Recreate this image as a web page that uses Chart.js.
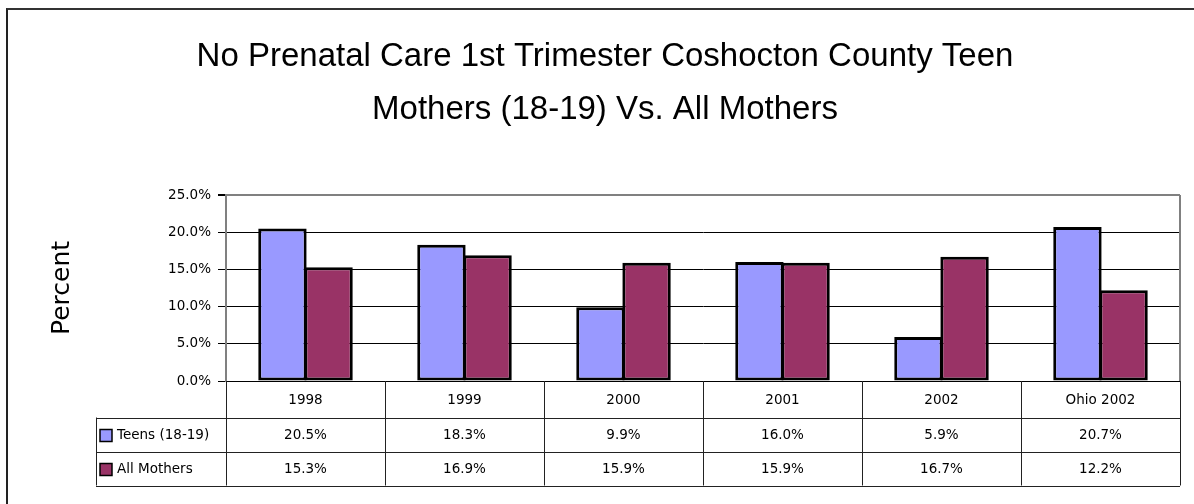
<!DOCTYPE html>
<html>
<head>
<meta charset="utf-8">
<script src="https://cdn.jsdelivr.net/npm/chart.js@4/dist/chart.umd.min.js"></script>
<style>
  html, body { margin: 0; padding: 0; background: #fff; overflow: hidden; }
  .frame { position: absolute; left: 6px; top: 8px; width: 1400px; height: 700px;
           border-left: 2px solid #222; border-top: 2px solid #333; }
  #chart { position: absolute; left: 0; top: 0; }
</style>
</head>
<body>
<div class="frame"></div>
<canvas id="chart" width="1194" height="504"></canvas>
<script>
'use strict';

const CATEGORIES = ['1998', '1999', '2000', '2001', '2002', 'Ohio 2002'];
const TEENS      = [20.5, 18.3, 9.9, 16.0, 5.9, 20.7];
const ALL_MOMS   = [15.3, 16.9, 15.9, 15.9, 16.7, 12.2];
const SERIES_NAMES = ['Teens (18-19)', 'All Mothers'];
const COLORS = ['#9999FF', '#993366'];
const TITLE = ['No Prenatal Care 1st Trimester Coshocton County Teen', 'Mothers (18-19) Vs. All Mothers'];

const FONT = "'DejaVu Sans', Verdana, sans-serif";
const PAD_LEFT = 30;

// ── Data table under the plot ─────────────────────────────────────
const dataTable = {
  id: 'dataTable',
  afterDraw(chart) {
    const ctx = chart.ctx;
    const x = chart.scales.x;
    const area = chart.chartArea;
    const n = CATEGORIES.length;
    const step = x.getPixelForValue(1) - x.getPixelForValue(0);
    const top = area.bottom;
    const r1 = top + 36.5, r2 = r1 + 34, r3 = r2 + 34;
    const tableLeft = 96;
    const rows = [TEENS, ALL_MOMS];

    ctx.save();
    // plot area right border
    ctx.strokeStyle = '#808080';
    ctx.lineWidth = 2;
    ctx.beginPath();
    ctx.moveTo(area.right, area.top);
    ctx.lineTo(area.right, area.bottom);
    ctx.stroke();

    // table grid
    ctx.strokeStyle = '#222';
    ctx.lineWidth = 1;
    ctx.beginPath();
    for (let i = 0; i <= n; i++) {
      const bx = Math.round(x.getPixelForValue(i) - step / 2) + 0.5;
      ctx.moveTo(bx, top);
      ctx.lineTo(bx, r3);
    }
    ctx.moveTo(tableLeft + 0.5, r1);
    ctx.lineTo(tableLeft + 0.5, r3);
    [r1, r2, r3].forEach(y => {
      ctx.moveTo(tableLeft, Math.round(y) + 0.5);
      ctx.lineTo(area.right, Math.round(y) + 0.5);
    });
    ctx.stroke();

    ctx.fillStyle = '#000';
    ctx.font = '13.5px ' + FONT;
    ctx.textBaseline = 'middle';
    ctx.textAlign = 'center';
    CATEGORIES.forEach((c, i) => ctx.fillText(c, x.getPixelForValue(i), (top + r1) / 2 + 1));
    rows.forEach((vals, r) => {
      const y0 = r === 0 ? r1 : r2;
      const cy = y0 + 17 + 1;
      vals.forEach((v, i) => ctx.fillText(v.toFixed(1) + '%', x.getPixelForValue(i), cy));
      // legend key
      ctx.fillStyle = COLORS[r];
      ctx.fillRect(100, cy - 6, 12, 12);
      ctx.strokeStyle = '#000';
      ctx.lineWidth = 1.5;
      ctx.strokeRect(100, cy - 6, 12, 12);
      ctx.fillStyle = '#000';
      ctx.textAlign = 'left';
      ctx.fillText(SERIES_NAMES[r], 117, cy);
      ctx.textAlign = 'center';
    });
    ctx.restore();
  }
};

// ── Chart ─────────────────────────────────────────────────────────
const chart = new Chart(document.getElementById('chart').getContext('2d'), {
  type: 'bar',
  data: {
    labels: CATEGORIES,
    datasets: [
      { label: SERIES_NAMES[0], data: TEENS, backgroundColor: COLORS[0] },
      { label: SERIES_NAMES[1], data: ALL_MOMS, backgroundColor: COLORS[1] },
    ],
  },
  options: {
    responsive: false,
    animation: false,
    layout: { padding: { left: PAD_LEFT, right: 14, top: 0, bottom: 0 } },
    datasets: {
      bar: {
        categoryPercentage: 0.58,
        barPercentage: 1.05,
        borderColor: '#000',
        borderWidth: 3,
        borderSkipped: false,
      },
    },
    scales: {
      x: {
        ticks: { display: false },
        grid: { display: false },
        border: { display: false },
        afterFit: s => { s.height = 504 - 381; },
      },
      y: {
        min: 0, max: 25,
        ticks: {
          stepSize: 5,
          color: '#000',
          padding: 7,
          font: { family: FONT, size: 13.5 },
          callback: v => v.toFixed(1) + '%',
        },
        grid: {
          color: c => c.tick && c.tick.value === 25 ? '#808080' : '#000',
          lineWidth: c => c.tick && c.tick.value === 25 ? 2 : 1,
          tickColor: '#000',
          tickLength: 8,
        },
        border: { color: '#808080', width: 2 },
        title: {
          display: true,
          text: 'Percent',
          color: '#000',
          font: { family: FONT, size: 25 },
          padding: { top: 47 - PAD_LEFT, bottom: 0 },
        },
        afterFit: s => { s.width = 226 - PAD_LEFT; },
      },
    },
    plugins: {
      legend: { display: false },
      tooltip: { enabled: false },
      title: {
        display: true,
        text: TITLE,
        color: '#000',
        font: { family: "'Liberation Sans', Arial, sans-serif", size: 33, weight: 'normal', lineHeight: 53 / 33 },
        padding: { top: 30.5, bottom: 58.5 },
      },
    },
  },
  plugins: [dataTable],
});
</script>
</body>
</html>
